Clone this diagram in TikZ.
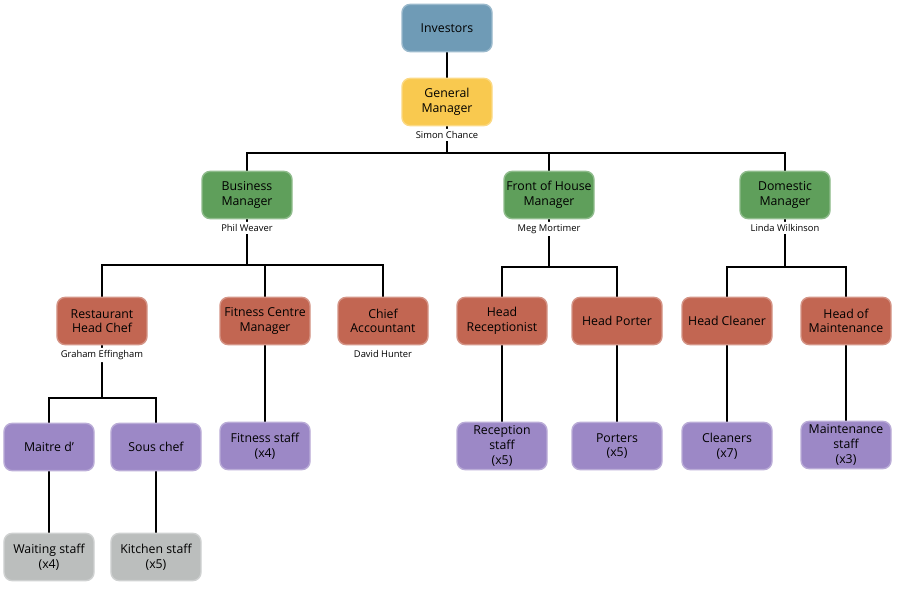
\documentclass[tikz,border=0pt]{standalone}
\usepackage{fontspec}
\setmainfont{Open Sans}
\usetikzlibrary{positioning,backgrounds}

\definecolor{invblue}{HTML}{6F9BB6}
\definecolor{gmyellow}{HTML}{F9C94F}
\definecolor{mgrgreen}{HTML}{5F9F5B}
\definecolor{headred}{HTML}{C26652}
\definecolor{staffpurple}{HTML}{9C88C6}
\definecolor{lowgrey}{HTML}{BBBEBD}

\begin{document}
\begin{tikzpicture}[
  orgbox/.style    = {rounded corners=7pt, minimum width=2.7cm, minimum height=1.42cm, inner sep=1pt,
                      align=center, font=\fontsize{10.5}{12.5}\selectfont, line width=1.2pt},
  invbox/.style    = {orgbox, fill=invblue, draw=invblue!70!white},
  gmbox/.style     = {orgbox, fill=gmyellow, draw=gmyellow!70!white},
  mgrbox/.style    = {orgbox, fill=mgrgreen, draw=mgrgreen!70!white},
  headbox/.style   = {orgbox, fill=headred, draw=headred!70!white},
  staffbox/.style  = {orgbox, fill=staffpurple, draw=staffpurple!70!white},
  lowbox/.style    = {orgbox, fill=lowgrey, draw=lowgrey!70!white},
  namebox/.style   = {fill=white, rounded corners=3pt, inner sep=2pt, font=\fontsize{8}{9}\selectfont},
  orglink/.style   = {line width=1.6pt, black},
  x=0.03cm, y=-0.03cm,
]
  \useasboundingbox (0,0) rectangle (900,600);

  % top
  \node[invbox] (inv) at (447,28) {Investors};
  \node[gmbox]  (gm)  at (447,102) {General\\Manager};
  \node[namebox, below=2pt of gm] (gmname) {Simon Chance};

  % managers
  \node[mgrbox] (bus) at (247,195) {Business\\Manager};
  \node[namebox, below=2pt of bus] (busname) {Phil Weaver};
  \node[mgrbox] (foh) at (549,195) {Front of House\\Manager};
  \node[namebox, below=2pt of foh] (fohname) {Meg Mortimer};
  \node[mgrbox] (dom) at (785,195) {Domestic\\Manager};
  \node[namebox, below=2pt of dom] (domname) {Linda Wilkinson};

  % heads
  \node[headbox] (chef) at (102,321) {Restaurant\\Head Chef};
  \node[namebox, below=2pt of chef] (chefname) {Graham Effingham};
  \node[headbox] (fit)  at (265,321) {Fitness Centre\\Manager};
  \node[headbox] (acc)  at (383,321) {Chief\\Accountant};
  \node[namebox, below=2pt of acc] (accname) {David Hunter};
  \node[headbox] (rec)  at (502,321) {Head\\Receptionist};
  \node[headbox] (port) at (617,321) {Head Porter};
  \node[headbox] (clean) at (727,321) {Head Cleaner};
  \node[headbox] (maint) at (846,321) {Head of\\Maintenance};

  % staff
  \node[staffbox] (maitre) at (49,447) {Maitre d'};
  \node[staffbox] (sous)   at (156,447) {Sous chef};
  \node[staffbox] (fitst)  at (265,446) {Fitness staff\\(x4)};
  \node[staffbox] (recst)  at (502,446) {Reception\\staff\\(x5)};
  \node[staffbox] (portst) at (617,446) {Porters\\(x5)};
  \node[staffbox] (cleanst) at (727,446) {Cleaners\\(x7)};
  \node[staffbox] (maintst) at (846,445) {Maintenance\\staff\\(x3)};

  % bottom
  \node[lowbox] (wait) at (49,557) {Waiting staff\\(x4)};
  \node[lowbox] (kitch) at (156,557) {Kitchen staff\\(x5)};

  % bus bars
  \coordinate (barA) at (447,153);
  \coordinate (barB) at (247,265);
  \coordinate (barC) at (549,267);
  \coordinate (barD) at (785,267);
  \coordinate (barE) at (102,398);

  \begin{scope}[on background layer]
    \draw[orglink] (inv) -- (gm);
    \draw[orglink] (gm) -- (barA);
    \draw[orglink] (bus.north) |- (barA) -| (dom.north);
    \draw[orglink] (foh.north) -- (foh |- barA);

    \draw[orglink] (bus) -- (barB);
    \draw[orglink] (chef.north) |- (barB) -| (acc.north);
    \draw[orglink] (fit.north) -- (fit |- barB);

    \draw[orglink] (foh) -- (barC);
    \draw[orglink] (rec.north) |- (barC) -| (port.north);

    \draw[orglink] (dom) -- (barD);
    \draw[orglink] (clean.north) |- (barD) -| (maint.north);

    \draw[orglink] (chef) -- (barE);
    \draw[orglink] (maitre.north) |- (barE) -| (sous.north);

    \draw[orglink] (fit) -- (fitst);
    \draw[orglink] (rec) -- (recst);
    \draw[orglink] (port) -- (portst);
    \draw[orglink] (clean) -- (cleanst);
    \draw[orglink] (maint) -- (maintst);
    \draw[orglink] (maitre) -- (wait);
    \draw[orglink] (sous) -- (kitch);
  \end{scope}
\end{tikzpicture}
\end{document}
